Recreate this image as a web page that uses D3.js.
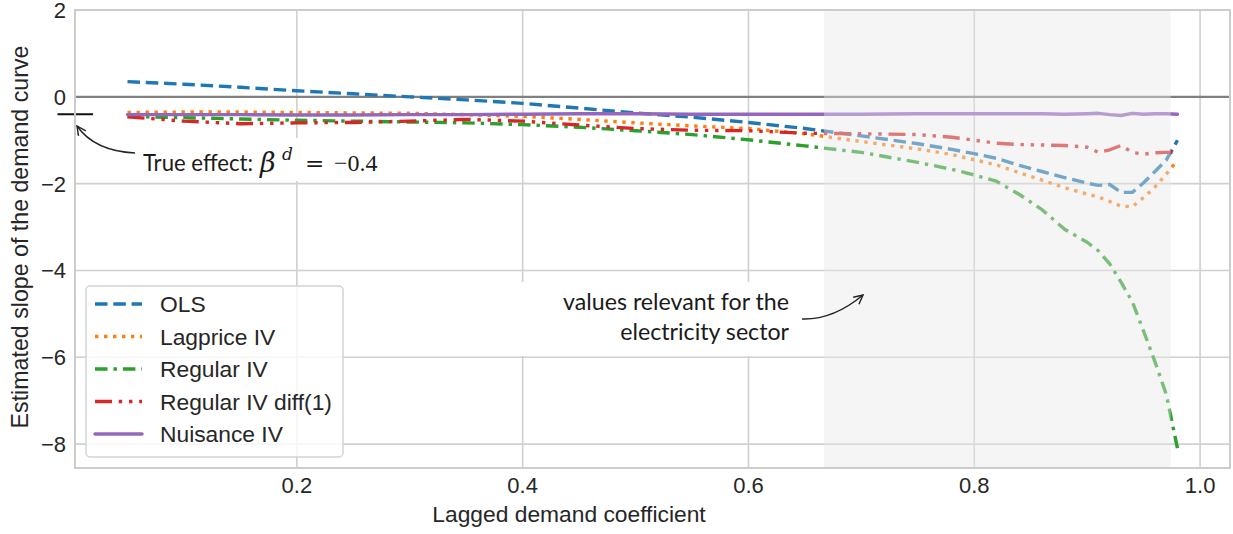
<!DOCTYPE html>
<html>
<head>
<meta charset="utf-8">
<script src="https://cdn.jsdelivr.net/npm/d3@7"></script>
<style>
  html, body { margin: 0; padding: 0; background: #fff; }
  svg { display: block; }
</style>
</head>
<body>
<svg id="chart" width="1233" height="534"></svg>
<script>
// ---------------- data ----------------
const xValues = [0.05, 0.10, 0.15, 0.20, 0.25, 0.30, 0.35, 0.40, 0.45, 0.50, 0.55, 0.60, 0.65,
  0.70, 0.75, 0.78, 0.80, 0.82, 0.84, 0.86, 0.88, 0.90, 0.91, 0.92, 0.93, 0.94, 0.95, 0.96, 0.97, 0.98];
const olsValues = [0.35, 0.29, 0.22, 0.14, 0.07, 0.00, -0.07, -0.15, -0.26, -0.37, -0.47, -0.59, -0.73,
  -0.90, -1.08, -1.21, -1.31, -1.42, -1.58, -1.72, -1.86, -1.99, -2.04, -2.02, -2.20, -2.20, -1.98, -1.72, -1.46, -1.00];
const lagpriceValues = [-0.36, -0.35, -0.35, -0.36, -0.37, -0.38, -0.41, -0.45, -0.52, -0.60, -0.67, -0.73, -0.85,
  -1.03, -1.20, -1.33, -1.45, -1.57, -1.75, -1.92, -2.09, -2.24, -2.31, -2.41, -2.52, -2.53, -2.32, -2.08, -1.78, -1.46];
const regularValues = [-0.45, -0.48, -0.51, -0.54, -0.56, -0.58, -0.60, -0.64, -0.70, -0.78, -0.87, -0.99, -1.13,
  -1.28, -1.51, -1.67, -1.80, -1.95, -2.25, -2.60, -3.05, -3.35, -3.55, -3.85, -4.27, -4.72, -5.40, -6.10, -6.85, -8.10];
const diffValues = [-0.46, -0.56, -0.62, -0.60, -0.59, -0.56, -0.52, -0.56, -0.65, -0.73, -0.77, -0.78, -0.84,
  -0.85, -0.87, -0.93, -1.00, -1.07, -1.10, -1.11, -1.12, -1.16, -1.28, -1.22, -1.12, -1.28, -1.32, -1.29, -1.28, -1.28];
const nuisanceValues = [-0.41, -0.41, -0.41, -0.42, -0.42, -0.41, -0.41, -0.40, -0.39, -0.39, -0.40, -0.40, -0.40,
  -0.40, -0.39, -0.39, -0.39, -0.39, -0.39, -0.39, -0.40, -0.39, -0.38, -0.41, -0.43, -0.38, -0.40, -0.39, -0.39, -0.40];

const seriesNames = ["OLS", "Lagprice IV", "Regular IV", "Regular IV diff(1)", "Nuisance IV"];
const xTicks = [0.2, 0.4, 0.6, 0.8, 1.0];
const yTicks = [2, 0, -2, -4, -6, -8];
const trueEffect = -0.4;
const relevantRange = [0.667, 0.974];
const xDomain = [0.0035, 1.0265];
const yDomain = [-8.55, 2];

// ---------------- styles ----------------
const styles = [
  { color: "#1f77b4", dash: "12.5,5.8" },
  { color: "#ff7f0e", dash: "3.4,5.6" },
  { color: "#2ca02c", dash: "12.5,6,3.4,6" },
  { color: "#d62728", dash: "17,6.8,3.4,6.8,3.4,6.8,3.4,6.8" },
  { color: "#9467bd", dash: null }
];
const series = [olsValues, lagpriceValues, regularValues, diffValues, nuisanceValues].map((vals, i) => ({
  name: seriesNames[i],
  points: xValues.map((x, j) => ({ x, y: vals[j] })),
  ...styles[i]
}));

const svg = d3.select("#chart");
const M = { left: 75, right: 1230, top: 10, bottom: 468 };
const x = d3.scaleLinear().domain(xDomain).range([M.left, M.right]);
const y = d3.scaleLinear().domain(yDomain).range([M.bottom, M.top]);
const textColor = "#262626";
const sansFont = "'Liberation Sans', Arial, sans-serif";
const annFont = "Lato, 'Open Sans', sans-serif";
const mathFont = "'DejaVu Serif', serif";
const numFont = "'Liberation Serif', 'DejaVu Serif', serif";

svg.append("defs").append("clipPath").attr("id", "plotclip")
  .append("rect").attr("x", M.left).attr("y", M.top)
  .attr("width", M.right - M.left).attr("height", M.bottom - M.top);

svg.select("defs").append("marker")
  .attr("id", "arrowhead").attr("markerUnits", "userSpaceOnUse")
  .attr("markerWidth", 20).attr("markerHeight", 20)
  .attr("viewBox", "-12 -10 14 20").attr("refX", 0).attr("refY", 0)
  .attr("orient", "auto")
  .append("path").attr("d", "M-9,-4.5 L0,0 L-9,4.5")
  .attr("fill", "none").attr("stroke", "#222").attr("stroke-width", 1.4);

// grid
const grid = svg.append("g");
grid.selectAll(".gx").data(xTicks).join("line")
  .attr("x1", d => x(d)).attr("x2", d => x(d)).attr("y1", M.top).attr("y2", M.bottom)
  .attr("stroke", "#d0d0d0").attr("stroke-width", 1.6);
grid.selectAll(".gy").data(yTicks).join("line")
  .attr("x1", M.left).attr("x2", M.right).attr("y1", d => y(d)).attr("y2", d => y(d))
  .attr("stroke", "#d0d0d0").attr("stroke-width", 1.6);

// zero line
svg.append("line").attr("x1", M.left).attr("x2", M.right)
  .attr("y1", y(0)).attr("y2", y(0)).attr("stroke", "#808080").attr("stroke-width", 2.2);

// series
const line = d3.line().x(d => x(d.x)).y(d => y(d.y));
const lines = svg.append("g").attr("clip-path", "url(#plotclip)");
series.forEach(s => {
  lines.append("path").attr("d", line(s.points))
    .attr("fill", "none").attr("stroke", s.color).attr("stroke-width", 3.4)
    .attr("stroke-dasharray", s.dash).attr("stroke-linejoin", "round")
    .attr("stroke-linecap", s.dash ? "butt" : "round");
});

// shaded relevant region (drawn over lines)
svg.append("rect").attr("x", x(relevantRange[0])).attr("y", M.top)
  .attr("width", x(relevantRange[1]) - x(relevantRange[0])).attr("height", M.bottom - M.top)
  .attr("fill", "#e6e6e6").attr("opacity", 0.42);

// true effect marker
svg.append("line").attr("x1", x(-0.012)).attr("x2", x(0.0195))
  .attr("y1", y(trueEffect)).attr("y2", y(trueEffect))
  .attr("stroke", "#111").attr("stroke-width", 2);

// spines
svg.append("rect").attr("x", M.left).attr("y", M.top)
  .attr("width", M.right - M.left).attr("height", M.bottom - M.top)
  .attr("fill", "none").attr("stroke", "#cccccc").attr("stroke-width", 2);

// tick labels
svg.append("g").selectAll("text").data(yTicks).join("text")
  .attr("x", 66).attr("y", d => y(d) + 8)
  .attr("text-anchor", "end").attr("font-family", sansFont).attr("font-size", 22)
  .attr("fill", textColor).text(d => d3.format("")(d).replace("-", "\u2212"));
svg.append("g").selectAll("text").data(xTicks).join("text")
  .attr("x", d => x(d)).attr("y", 493)
  .attr("text-anchor", "middle").attr("font-family", sansFont).attr("font-size", 22)
  .attr("fill", textColor).text(d => d3.format(".1f")(d));

// axis labels
svg.append("text").attr("x", 569).attr("y", 522).attr("text-anchor", "middle")
  .attr("font-family", sansFont).attr("font-size", 22.8).attr("fill", textColor)
  .text("Lagged demand coefficient");
svg.append("text").attr("transform", "translate(28,237) rotate(-90)").attr("text-anchor", "middle")
  .attr("font-family", sansFont).attr("font-size", 23.2).attr("fill", textColor)
  .text("Estimated slope of the demand curve");

// legend
const lg = svg.append("g");
lg.append("rect").attr("x", 86).attr("y", 286).attr("width", 257).attr("height", 171)
  .attr("rx", 4).attr("fill", "#fff").attr("fill-opacity", 0.8)
  .attr("stroke", "#d4d4d4").attr("stroke-width", 1.5);
series.forEach((s, i) => {
  const cy = 304 + i * 32.5;
  lg.append("line").attr("x1", 95).attr("x2", 142).attr("y1", cy).attr("y2", cy)
    .attr("stroke", s.color).attr("stroke-width", 3.4).attr("stroke-dasharray", s.dash)
    .attr("stroke-linecap", s.dash ? "butt" : "round");
  lg.append("text").attr("x", 160).attr("y", cy + 8)
    .attr("font-family", sansFont).attr("font-size", 22.8).attr("fill", textColor).text(s.name);
});

function fit(sel, target) {
  const w = sel.node().getComputedTextLength();
  const fs = parseFloat(sel.attr("font-size"));
  sel.attr("font-size", fs * target / w);
  return fs * target / w;
}

// annotation 1: true effect
svg.append("rect").attr("x", 136).attr("y", 138).attr("width", 250).attr("height", 43).attr("fill", "#fff");
const t1 = svg.append("text").attr("x", 143).attr("y", 171)
  .attr("font-family", annFont).attr("font-size", 22).attr("fill", "#1a1a1a").text("True effect:");
fit(t1, 110);
svg.append("text").attr("x", 260).attr("y", 172).attr("font-family", mathFont)
  .attr("font-style", "italic").attr("font-size", 27).attr("fill", "#1a1a1a").text("\u03B2");
svg.append("text").attr("x", 282).attr("y", 160).attr("font-family", mathFont)
  .attr("font-style", "italic").attr("font-size", 17).attr("fill", "#1a1a1a").text("d");
svg.append("text").attr("x", 305).attr("y", 171).attr("font-family", mathFont)
  .attr("font-size", 23).attr("fill", "#1a1a1a").text("=");
svg.append("text").attr("x", 334).attr("y", 171).attr("font-family", numFont)
  .attr("font-size", 24).attr("fill", "#1a1a1a").text("\u22120.4");
svg.append("path").attr("d", "M135,153 Q94.5,151 77,126")
  .attr("fill", "none").attr("stroke", "#222").attr("stroke-width", 1.4)
  .attr("marker-end", "url(#arrowhead)");

// annotation 2: relevant values
svg.append("rect").attr("x", 516).attr("y", 282).attr("width", 281).attr("height", 74).attr("fill", "#fff");
const a1 = svg.append("text").attr("x", 789).attr("y", 310).attr("text-anchor", "end")
  .attr("font-family", annFont).attr("font-size", 22).attr("fill", "#1a1a1a").text("values relevant for the");
const fs2 = fit(a1, 226);
svg.append("text").attr("x", 789).attr("y", 340).attr("text-anchor", "end")
  .attr("font-family", annFont).attr("font-size", fs2).attr("fill", "#1a1a1a").text("electricity sector");
svg.append("path").attr("d", "M802,319 Q833,320 863,295")
  .attr("fill", "none").attr("stroke", "#222").attr("stroke-width", 1.4)
  .attr("marker-end", "url(#arrowhead)");
</script>
</body>
</html>
